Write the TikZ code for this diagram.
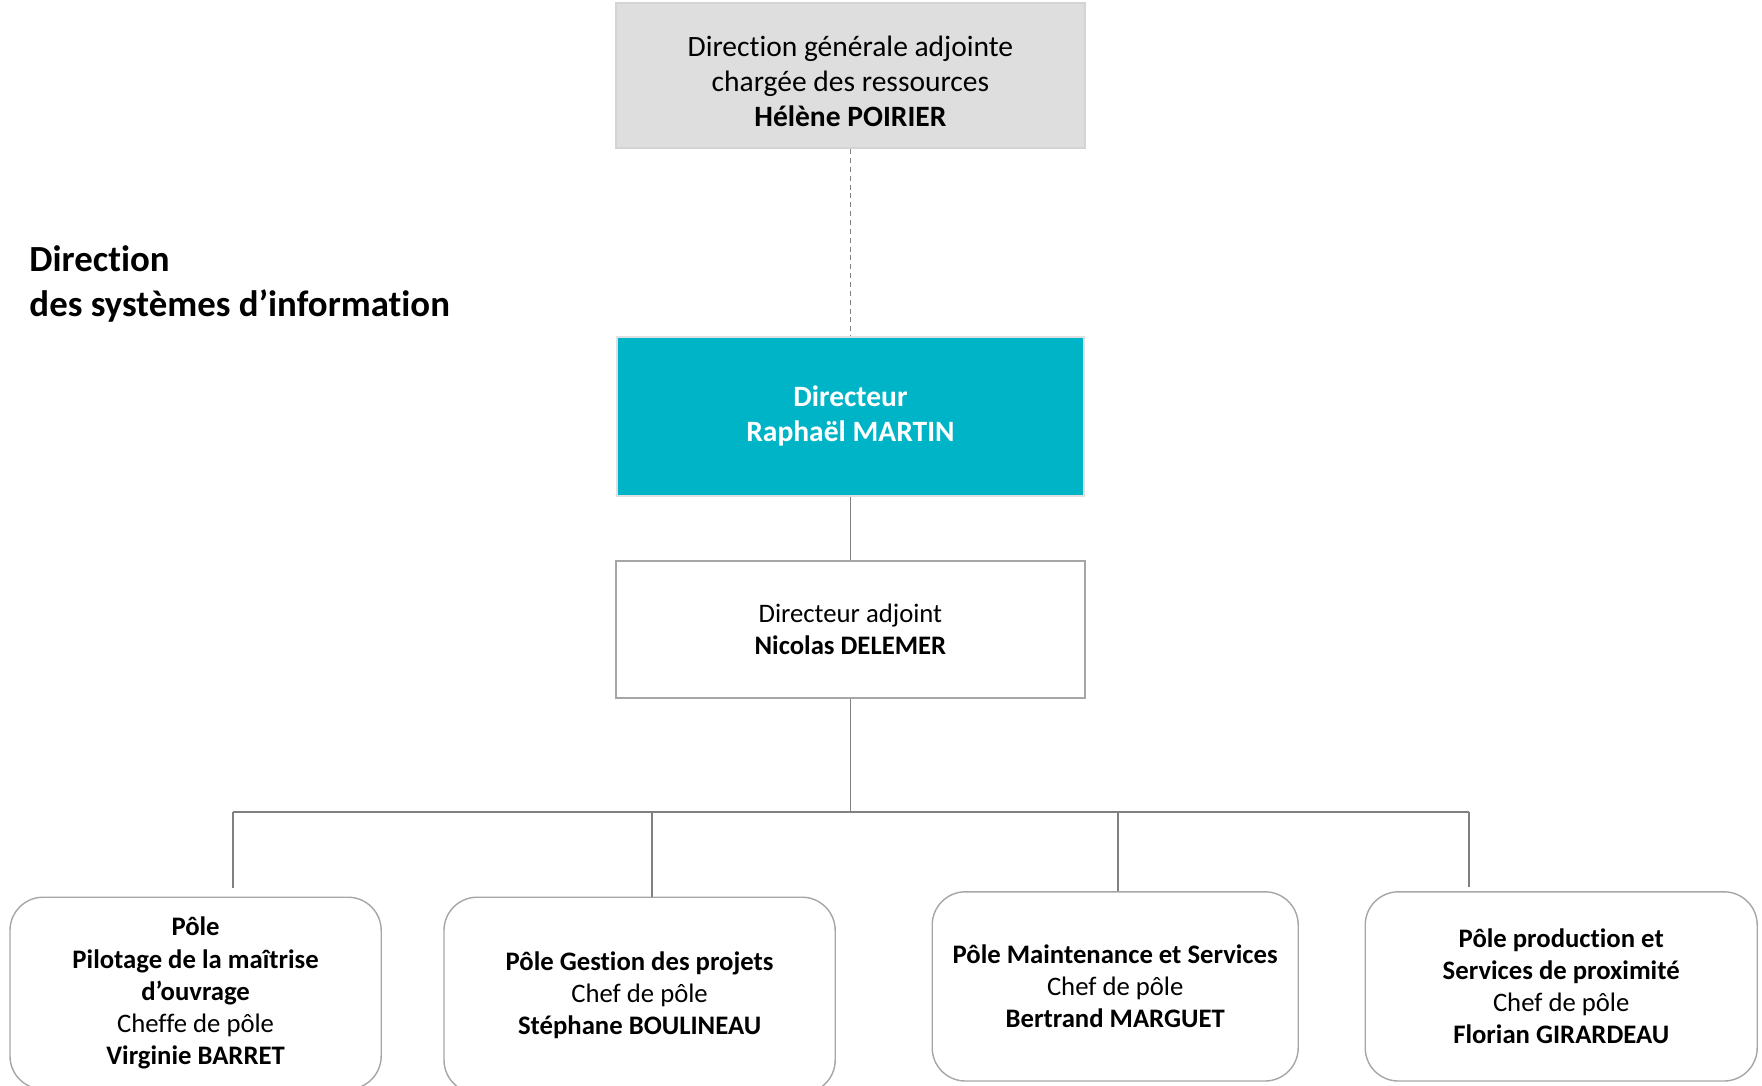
\documentclass[tikz,border=0pt]{standalone}
\usepackage{fontspec}
\setmainfont{Carlito}[Ligatures=NoCommon]
\definecolor{dsigrey}{RGB}{222,222,222}
\definecolor{dsigreyline}{RGB}{212,212,212}
\definecolor{dsicyan}{RGB}{0,180,200}
\definecolor{dsiline}{RGB}{128,128,128}
\definecolor{dsiframe}{RGB}{166,166,166}
\tikzset{
	topbox/.style={draw=dsigreyline,fill=dsigrey,line width=1.4pt,minimum width=11.73cm,minimum height=3.63cm},
	toptext/.style={align=center,font=\fontsize{21}{24.9}\selectfont},
	dirbox/.style={draw=black!12,fill=dsicyan,line width=1.4pt,minimum width=11.68cm,minimum height=3.98cm,align=center,text=white,font=\fontsize{21}{24.9}\selectfont\bfseries},
	adjbox/.style={draw=dsiframe,line width=1.1pt,minimum width=11.73cm,minimum height=3.43cm,align=center,font=\fontsize{19}{22.8}\selectfont},
	polebox/.style={draw=dsiframe,line width=1pt,rounded corners=0.83cm,align=center,font=\fontsize{19}{22.9}\selectfont},
	titletext/.style={anchor=west,inner sep=0pt,align=left,font=\fontsize{26.2}{31.6}\selectfont\bfseries},
	link/.style={draw=dsiline,line width=1.1pt},
	dashlink/.style={draw=dsiline,line width=0.8pt,dash pattern=on 3.5pt off 2.8pt}
}
\begin{document}
\begin{tikzpicture}
		\path[use as bounding box] (0,0) rectangle (44.05,-27.125);
		\node[titletext] (dsi) at (0.73,-7.1) {Direction\\des systèmes d’information};
		
		\node[topbox] (dga) at (21.26,-1.89) {};
		\node[toptext] (dgatext) at ([yshift=-0.15cm]dga.center) {Direction générale adjointe\\chargée des ressources\\\textbf{Hélène POIRIER}};
		\node[dirbox] (dir) at (21.26,-10.41) {Directeur\\Raphaël MARTIN};
		\node[adjbox] (adj) at (21.26,-15.74) {Directeur adjoint\\\textbf{Nicolas DELEMER}};
		
		\node[polebox,minimum width=9.28cm,minimum height=4.8cm] (p1) at (4.89,-24.83) {\textbf{Pôle}\\\textbf{Pilotage de la maîtrise}\\\textbf{d’ouvrage}\\Cheffe de pôle\\\textbf{Virginie BARRET}};
		\node[polebox,minimum width=9.78cm,minimum height=4.9cm] (p2) at (15.99,-24.88) {\textbf{Pôle Gestion des projets}\\Chef de pôle\\\textbf{Stéphane BOULINEAU}};
		\node[polebox,minimum width=9.15cm,minimum height=4.73cm] (p3) at (27.88,-24.66) {\textbf{Pôle Maintenance et Services}\\Chef de pôle\\\textbf{Bertrand MARGUET}};
		\node[polebox,minimum width=9.8cm,minimum height=4.73cm] (p4) at (39.03,-24.66) {\textbf{Pôle production et}\\\textbf{Services de proximité}\\Chef de pôle\\\textbf{Florian GIRARDEAU}};
		
		\coordinate (b1) at (5.83,-20.3);
		\coordinate (b2) at (16.3,-20.3);
		\coordinate (b3) at (27.95,-20.3);
		\coordinate (b4) at (36.73,-20.3);
		\coordinate (bc) at (adj.south |- b1);
		
		\draw[dashlink] (dga) -- (dir);
		\draw[link] (dir) -- (adj);
		\draw[link] (adj) -- (bc);
		\draw[link] (b1) -- (b4);
		\draw[link,shorten >=0.22cm] (b1) -- (b1 |- p1.north);
		\draw[link] (b2) -- (b2 |- p2.north);
		\draw[link] (b3) -- (b3 |- p3.north);
		\draw[link,shorten >=0.1cm] (b4) -- (b4 |- p4.north);
		
	\end{tikzpicture}
\end{document}
